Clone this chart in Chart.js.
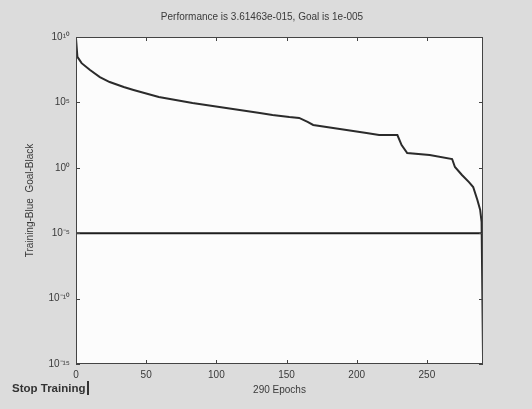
<!DOCTYPE html>
<html><head><meta charset="utf-8">
<script src="https://cdn.jsdelivr.net/npm/chart.js@4/dist/chart.umd.min.js"></script>
<style>
html,body{margin:0;padding:0;background:#dcdcdc;}
#wrap{position:relative;width:532px;height:409px;}
#stop{position:absolute;left:12px;top:381px;font:bold 11.5px "Liberation Sans",Arial,sans-serif;color:#333;border-right:2px solid #333;padding-right:2px;line-height:14px;}
</style></head><body>
<div id="wrap"><canvas id="c" width="532" height="409"></canvas><div id="stop">Stop Training</div></div>
<script>
// Training performance
const epochs = [0, 1, 4, 10, 17, 24, 34, 41, 59, 83, 107, 131, 140, 152, 159, 165, 169, 188, 207, 216, 229, 232, 236, 252, 268, 270, 275, 280, 283, 286, 288, 289, 290];
const performance = [8e9, 3e8, 1e8, 3e7, 8.7e6, 3.6e6, 1.5e6, 9e5, 2.6e5, 9e4, 3.7e4, 1.55e4, 1.1e4, 7.6e3, 6.5e3, 3.2e3, 1.9e3, 930, 460, 320, 320, 55, 13.5, 9.5, 4.7, 1.15, 0.28, 0.081, 0.034, 0.0035, 5.9e-4, 7.2e-5, 3.61463e-15];
// Goal line
const goalEpochs = [0, 290];
const goalValues = [1e-5, 1e-5];
// Axis ticks
const xTicks = [0, 50, 100, 150, 200, 250];
const yTicks = [1e-15, 1e-10, 1e-5, 1, 1e5, 1e10];
const titleText = 'Performance is 3.61463e-015, Goal is 1e-005';
const xTitle = '290 Epochs';
const yTitle = 'Training-Blue  Goal-Black';

const sup = {'0':'⁰','1':'¹','2':'²','3':'³','4':'⁴','5':'⁵','6':'⁶','7':'⁷','8':'⁸','9':'⁹','-':'⁻'};
function powLabel(v){
  const e = Math.round(Math.log10(v));
  return '10' + String(e).split('').map(c => sup[c]).join('');
}

const FONT = '"Liberation Sans", Arial, sans-serif';
Chart.defaults.font.family = FONT;
Chart.defaults.color = '#3a3a3a';

const framePlugin = {
  id: 'frame',
  beforeDraw(chart){
    const {ctx, chartArea:a} = chart;
    ctx.save();
    ctx.fillStyle = '#dcdcdc';
    ctx.fillRect(0, 0, chart.width, chart.height);
    ctx.fillStyle = '#fcfcfc';
    ctx.fillRect(a.left, a.top, a.right - a.left, a.bottom - a.top);
    ctx.restore();
  },
  afterDraw(chart){
    const {ctx, chartArea:a, scales:{x, y}} = chart;
    ctx.save();
    ctx.strokeStyle = '#444';
    ctx.lineWidth = 1;
    ctx.strokeRect(a.left + 0.5, a.top + 0.5, a.right - a.left - 1, a.bottom - a.top - 1);
    ctx.beginPath();
    xTicks.forEach(v => {
      const px = Math.round(x.getPixelForValue(v)) + 0.5;
      ctx.moveTo(px, a.bottom); ctx.lineTo(px, a.bottom - 4);
      ctx.moveTo(px, a.top); ctx.lineTo(px, a.top + 4);
    });
    yTicks.forEach(v => {
      const py = Math.round(y.getPixelForValue(v)) + 0.5;
      ctx.moveTo(a.left, py); ctx.lineTo(a.left + 4, py);
      ctx.moveTo(a.right, py); ctx.lineTo(a.right - 4, py);
    });
    ctx.stroke();
    // title
    ctx.fillStyle = '#3a3a3a';
    ctx.font = '10px ' + FONT;
    ctx.textAlign = 'center';
    ctx.textBaseline = 'middle';
    ctx.fillText(titleText, 262, 17);
    ctx.restore();
  }
};

new Chart(document.getElementById('c'), {
  type: 'line',
  data: {
    datasets: [
      {
        label: 'Training',
        data: epochs.map((e, i) => ({x: e, y: performance[i]})),
        borderColor: '#2b2b2b',
        borderWidth: 2,
        pointRadius: 0,
        tension: 0,
        fill: false
      },
      {
        label: 'Goal',
        data: goalEpochs.map((e, i) => ({x: e, y: goalValues[i]})),
        borderColor: '#1e1e1e',
        borderWidth: 2,
        pointRadius: 0,
        tension: 0,
        fill: false
      }
    ]
  },
  options: {
    responsive: false,
    animation: false,
    layout: {padding: {left: 20, right: 49, top: 37, bottom: 10}},
    plugins: {legend: {display: false}, tooltip: {enabled: false}, title: {display: false}},
    scales: {
      x: {
        type: 'linear', min: 0, max: 290,
        afterBuildTicks: s => { s.ticks = xTicks.map(v => ({value: v})); },
        grid: {display: false, drawTicks: false},
        border: {display: false},
        ticks: {padding: 5, font: {size: 10}, maxRotation: 0, autoSkip: false, callback: v => String(v)},
        title: {display: true, text: xTitle, font: {size: 10}, padding: {top: 0, bottom: 3}},
        afterFit: s => { s.height = 35; }
      },
      y: {
        type: 'logarithmic', min: 1e-15, max: 1e10,
        afterBuildTicks: s => { s.ticks = yTicks.map(v => ({value: v})); },
        grid: {display: false, drawTicks: false},
        border: {display: false},
        ticks: {padding: 6, font: {size: 10}, autoSkip: false, callback: v => powLabel(v)},
        title: {display: true, text: yTitle, font: {size: 10}, padding: {top: 4, bottom: 0}},
        afterFit: s => { s.width = 56; }
      }
    }
  },
  plugins: [framePlugin]
});
</script>
</body></html>
